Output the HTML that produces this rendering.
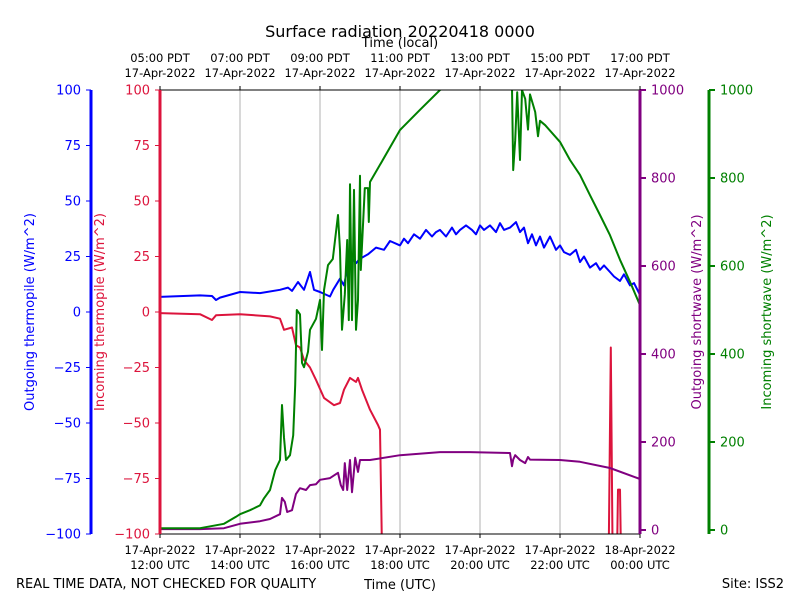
<!DOCTYPE html>
<html><head><meta charset="utf-8"><style>
body{margin:0;background:#fff;}
svg{font-family:"DejaVu Sans","Liberation Sans",sans-serif;}
</style></head><body>
<svg id="c" width="800" height="600"></svg>
<script>
// hours since 12:00 UTC, values
const blueT=[0,1,1.3,1.4,1.5,2,2.5,3,3.2,3.3,3.45,3.6,3.75,3.85,4,4.25,4.33,4.5,4.6,4.75,4.9,5,5.2,5.4,5.6,5.75,6,6.1,6.2,6.35,6.5,6.65,6.8,6.9,7,7.15,7.3,7.4,7.5,7.65,7.8,7.9,8,8.1,8.25,8.4,8.5,8.6,8.75,8.9,9,9.1,9.2,9.3,9.4,9.5,9.6,9.75,9.9,10,10.1,10.25,10.4,10.5,10.6,10.75,10.9,11,11.1,11.25,11.35,11.5,11.6,11.75,11.85,12];
const blueV=[6.8,7.5,7.2,5.4,6.5,9,8.5,10,11,9.5,13.5,10,18,10,9,7,10,15,12,25.7,22,24,26,29,28,32,30,33,31,35,33,37,34,36,37,34,38,35,37,39,37,35,39,37,39,36,40,37,38,40.5,36,38,31,35,30,34,29,34,28,30,27,25.7,28,22.5,25,20,22,19,21,18,16,14,17,12,13,7.7];
const redT=[0,1,1.3,1.4,2,2.75,3,3.1,3.3,3.4,3.5,3.6,3.75,3.9,4.1,4.35,4.5,4.6,4.75,4.9,4.95,5.05,5.25,5.45,5.5,5.58,5.7,11.2,11.27,11.33,11.4,11.45,11.5,11.55,11.6];
const redV=[-0.5,-1,-3.6,-1.5,-1,-2,-3,-8,-7,-15,-16,-21.6,-25,-30.6,-38.7,-42,-41,-35,-29.7,-31.5,-29.7,-35,-44,-50.9,-53,-140,-140,-140,-16,-140,-140,-80,-80,-140,-140];
const greenT=[0,1,1.6,1.9,2,2.25,2.5,2.6,2.75,2.88,3,3.05,3.1,3.15,3.25,3.33,3.38,3.42,3.5,3.55,3.6,3.7,3.75,3.9,4,4.05,4.1,4.2,4.32,4.45,4.5,4.55,4.62,4.68,4.72,4.75,4.8,4.85,4.9,4.95,5,5.02,5.12,5.2,5.22,5.25,5.5,6,6.5,7,7.5,8.25,8.75,8.8,8.83,8.88,8.93,9,9.05,9.13,9.2,9.25,9.38,9.45,9.5,9.63,10,10.25,10.5,10.75,11,11.25,11.5,11.75,12];
const greenV=[4,4,14,30,36,45,56,72,91,136,159,284,210,159,170,215,330,500,490,380,370,405,455,480,523,409,545,602,616,716,636,455,535,659,477,786,477,773,455,523,805,591,777,777,700,791,830,909,955,1000,1020,1030,1010,1005,818,886,995,841,1000,980,910,990,950,895,930,920,882,841,807,761,716,670,614,564,511];
const purpleT=[0,1,1.6,2,2.5,2.75,3,3.05,3.12,3.18,3.3,3.4,3.5,3.65,3.75,3.9,4,4.25,4.45,4.52,4.58,4.62,4.68,4.75,4.8,4.88,4.95,5,5.25,6,7,7.75,8.75,8.8,8.83,8.88,9,9.13,9.2,9.25,10,10.5,11.25,12];
const purpleV=[2,2,4,14,20,25,36,73,64,41,45,82,95,91,102,104,114,118,130,102,91,152,91,159,86,164,132,159,159,170,177,177,175,145,160,170,159,152,166,160,159,155,141,116];
const bottomTop=["17-Apr-2022","17-Apr-2022","17-Apr-2022","17-Apr-2022","17-Apr-2022","17-Apr-2022","18-Apr-2022"];
const bottomBot=["12:00 UTC","14:00 UTC","16:00 UTC","18:00 UTC","20:00 UTC","22:00 UTC","00:00 UTC"];
const topLab=["05:00 PDT","07:00 PDT","09:00 PDT","11:00 PDT","13:00 PDT","15:00 PDT","17:00 PDT"];
const tickHours=[0,2,4,6,8,10,12];
const leftTicks=[100,75,50,25,0,-25,-50,-75,-100];
const rightTicks=[0,200,400,600,800,1000];

const L=160,R=640,T=90,B=534;
const x=h=>L+h*(R-L)/12;
const yl=v=>312-v*(B-T)/200;
const yr=v=>530-v*0.44;
const svg=document.getElementById('c');
const NS='http://www.w3.org/2000/svg';
function el(tag,at,txt){const e=document.createElementNS(NS,tag);for(const k in at)e.setAttribute(k,at[k]);if(txt!==undefined)e.textContent=txt;svg.appendChild(e);return e;}
function txt(xx,yy,s,size,fill,anchor,name,rot){const e=el('text',{x:xx,y:yy,'font-size':size,fill:fill,'text-anchor':anchor||'middle'},s);if(rot)e.setAttribute('transform',`rotate(-90 ${xx} ${yy})`);return e;}

const defs=el('defs',{});
const cp=document.createElementNS(NS,'clipPath');cp.setAttribute('id','clip');
const cr=document.createElementNS(NS,'rect');cr.setAttribute('x',L);cr.setAttribute('y',T);cr.setAttribute('width',R-L);cr.setAttribute('height',B-T);
cp.appendChild(cr);defs.appendChild(cp);

tickHours.forEach((h,i)=>{if(i>0&&i<6){const g=el('line',{x1:x(h),x2:x(h),y1:T,y2:B,stroke:'#b0b0b0','stroke-width':1});}});

function series(Ts,Vs,ys,color,name){const d=Ts.map((t,i)=>(i?'L':'M')+x(t).toFixed(1)+','+ys(Vs[i]).toFixed(1)).join(' ');
const p=el('path',{d:d,fill:'none',stroke:color,'stroke-width':2,'clip-path':'url(#clip)','stroke-linejoin':'round'});}
series(blueT,blueV,yl,'blue','outgoing-thermopile-line');
series(redT,redV,yl,'crimson','incoming-thermopile-line');
series(purpleT,purpleV,yr,'purple','outgoing-shortwave-line');
series(greenT,greenV,yr,'green','incoming-shortwave-line');

let f=el('line',{x1:L,x2:R,y1:T,y2:T,stroke:'#000','stroke-width':1});
f=el('line',{x1:L,x2:R,y1:B,y2:B,stroke:'#000','stroke-width':1});
f=el('line',{x1:L,x2:L,y1:T,y2:B,stroke:'crimson','stroke-width':3});
f=el('line',{x1:R,x2:R,y1:T,y2:B,stroke:'purple','stroke-width':3});
f=el('line',{x1:91,x2:91,y1:T,y2:B,stroke:'blue','stroke-width':3});
f=el('line',{x1:709,x2:709,y1:T,y2:B,stroke:'green','stroke-width':3});

leftTicks.forEach(v=>{const yy=yl(v);
el('line',{x1:86,x2:91,y1:yy,y2:yy,stroke:'blue','stroke-width':1});
txt(81,yy+4.5,String(v).replace('-','\u2212'),13,'blue','end','blue-tick-label');
el('line',{x1:155,x2:160,y1:yy,y2:yy,stroke:'crimson','stroke-width':1});
txt(150,yy+4.5,String(v).replace('-','\u2212'),13,'crimson','end','red-tick-label');});
rightTicks.forEach(v=>{const yy=yr(v);
el('line',{x1:640,x2:646,y1:yy,y2:yy,stroke:'purple','stroke-width':2});
txt(651,yy+4.5,String(v),13,'purple','start','purple-tick-label');
el('line',{x1:709,x2:715,y1:yy,y2:yy,stroke:'green','stroke-width':2});
txt(720,yy+4.5,String(v),13,'green','start','green-tick-label');});
tickHours.forEach((h,i)=>{const xx=x(h);
el('line',{x1:xx,x2:xx,y1:B,y2:B+4,stroke:'#000'});
el('line',{x1:xx,x2:xx,y1:T-4,y2:T,stroke:'#000'});
txt(xx,554,bottomTop[i],11.5,'#000','middle','bottom-date-label');
txt(xx,569,bottomBot[i],11.5,'#000','middle','bottom-time-label');
txt(xx,62,topLab[i],11.5,'#000','middle','top-time-label');
txt(xx,77,'17-Apr-2022',11.5,'#000','middle','top-date-label');});

txt(400,37,'Surface radiation 20220418 0000',16,'#000','middle','chart-title');
txt(400,47,'Time (local)',13,'#000','middle','top-axis-title');
txt(400,589,'Time (UTC)',13,'#000','middle','x-axis-title');
txt(16,588,'REAL TIME DATA, NOT CHECKED FOR QUALITY',13,'#000','start','quality-note');
txt(784,588,'Site: ISS2',13,'#000','end','site-label');
txt(34,312,'Outgoing thermopile (W/m^2)',13,'blue','middle','outgoing-thermopile-title',true);
txt(104,312,'Incoming thermopile (W/m^2)',13,'crimson','middle','incoming-thermopile-title',true);
txt(701,312,'Outgoing shortwave (W/m^2)',13,'purple','middle','outgoing-shortwave-title',true);
txt(771,312,'Incoming shortwave (W/m^2)',13,'green','middle','incoming-shortwave-title',true);
</script>
</body></html>
